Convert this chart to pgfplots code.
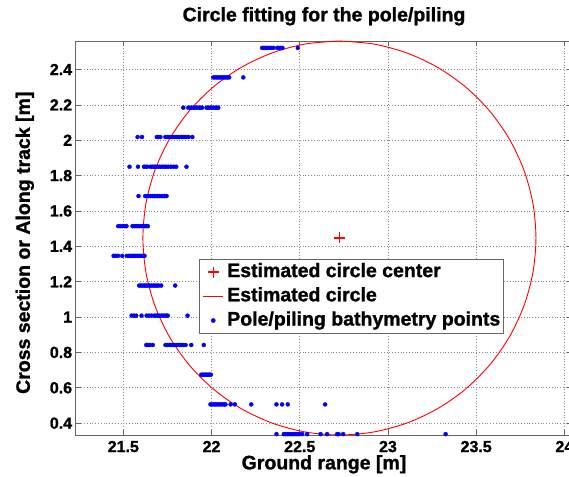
\documentclass[border=0pt]{standalone}
\usepackage{fontspec}
\setmainfont{Liberation Sans}[BoldFont={Liberation Sans Bold}, BoldFeatures={FakeBold=1.2}]
\usepackage{pgfplots}
\pgfplotsset{compat=1.18}
\usepackage{pgfplotstable}

\pgfplotsset{
  markleg/.style={legend image code/.code={\path[draw=none,fill=none] (0pt,-1pt) rectangle (24pt,1pt); \draw[##1] plot coordinates {(10pt,0pt)};}},
  lineleg/.style={legend image code/.code={\draw[##1] (0pt,0pt) -- (20pt,0pt); \path[draw=none,fill=none] (0pt,-1pt) rectangle (24pt,1pt);}},
}

\pgfplotstableread{
x y
22.725 2.561
22.5316 2.5441
22.344 2.4938
22.168 2.4117
22.0089 2.3003
21.8717 2.1631
21.7603 2.004
21.6782 1.828
21.6279 1.6404
21.611 1.447
21.6279 1.2536
21.6782 1.066
21.7603 0.890
21.8717 0.7309
22.0089 0.5937
22.168 0.4823
22.344 0.4002
22.5316 0.3499
22.725 0.333
22.9184 0.3499
23.106 0.4002
23.282 0.4823
23.4411 0.5937
23.5783 0.7309
23.6897 0.890
23.7718 1.066
23.8221 1.2536
23.839 1.447
23.8221 1.6404
23.7718 1.828
23.6897 2.004
23.5783 2.1631
23.4411 2.3003
23.282 2.4117
23.106 2.4938
22.9184 2.5441
22.725 2.561
}\circledata

\pgfplotstableread{
x y
22.368 0.338
22.410 0.338
22.420 0.338
22.430 0.338
22.440 0.338
22.450 0.338
22.460 0.338
22.470 0.338
22.480 0.338
22.490 0.338
22.500 0.338
22.514 0.338
22.542 0.338
22.618 0.338
22.655 0.338
22.712 0.338
22.720 0.338
22.746 0.338
22.826 0.338
23.327 0.338
21.994 0.506
22.004 0.506
22.014 0.506
22.024 0.506
22.034 0.506
22.044 0.506
22.054 0.506
22.064 0.506
22.074 0.506
22.079 0.506
22.108 0.506
22.132 0.506
22.225 0.506
22.368 0.506
22.400 0.506
22.432 0.506
22.644 0.506
21.942 0.674
21.950 0.674
21.958 0.674
21.966 0.674
21.974 0.674
21.982 0.674
21.990 0.674
21.996 0.674
21.630 0.842
21.640 0.842
21.650 0.842
21.667 0.842
21.739 0.842
21.749 0.842
21.759 0.842
21.769 0.842
21.779 0.842
21.789 0.842
21.799 0.842
21.809 0.842
21.819 0.842
21.829 0.842
21.840 0.842
21.853 0.842
21.885 0.842
21.956 0.842
21.547 1.008
21.560 1.008
21.573 1.008
21.603 1.008
21.632 1.008
21.645 1.008
21.660 1.008
21.675 1.008
21.685 1.008
21.695 1.008
21.705 1.008
21.715 1.008
21.725 1.008
21.735 1.008
21.745 1.008
21.752 1.008
21.864 1.008
21.590 1.178
21.600 1.178
21.610 1.178
21.620 1.178
21.630 1.178
21.640 1.178
21.650 1.178
21.660 1.178
21.670 1.178
21.680 1.178
21.690 1.178
21.700 1.178
21.715 1.178
21.794 1.178
21.445 1.346
21.456 1.346
21.470 1.346
21.494 1.346
21.520 1.346
21.530 1.346
21.540 1.346
21.550 1.346
21.560 1.346
21.570 1.346
21.580 1.346
21.590 1.346
21.600 1.346
21.610 1.346
21.620 1.346
21.471 1.514
21.482 1.514
21.494 1.514
21.508 1.514
21.518 1.514
21.552 1.514
21.562 1.514
21.572 1.514
21.582 1.514
21.592 1.514
21.602 1.514
21.612 1.514
21.622 1.514
21.632 1.514
21.639 1.514
21.586 1.684
21.624 1.684
21.634 1.684
21.644 1.684
21.654 1.684
21.664 1.684
21.674 1.684
21.684 1.684
21.694 1.684
21.704 1.684
21.714 1.684
21.724 1.684
21.734 1.684
21.745 1.684
21.535 1.850
21.583 1.850
21.617 1.850
21.626 1.850
21.636 1.850
21.654 1.850
21.664 1.850
21.674 1.850
21.684 1.850
21.694 1.850
21.704 1.850
21.714 1.850
21.724 1.850
21.734 1.850
21.744 1.850
21.756 1.850
21.770 1.850
21.785 1.850
21.800 1.850
21.858 1.850
21.581 2.018
21.606 2.018
21.690 2.018
21.700 2.018
21.710 2.018
21.738 2.018
21.750 2.018
21.760 2.018
21.770 2.018
21.780 2.018
21.790 2.018
21.800 2.018
21.810 2.018
21.820 2.018
21.830 2.018
21.840 2.018
21.850 2.018
21.860 2.018
21.870 2.018
21.891 2.018
21.840 2.184
21.868 2.184
21.878 2.184
21.888 2.184
21.898 2.184
21.908 2.184
21.918 2.184
21.928 2.184
21.938 2.184
21.947 2.184
21.972 2.184
21.982 2.184
21.992 2.184
22.002 2.184
22.012 2.184
22.022 2.184
22.030 2.184
22.038 2.184
22.010 2.355
22.020 2.355
22.030 2.355
22.040 2.355
22.050 2.355
22.060 2.355
22.070 2.355
22.080 2.355
22.090 2.355
22.100 2.355
22.180 2.355
22.287 2.522
22.297 2.522
22.307 2.522
22.317 2.522
22.327 2.522
22.337 2.522
22.350 2.522
22.372 2.522
22.382 2.522
22.392 2.522
22.402 2.522
22.489 2.522
}\pointsdata

\begin{document}
\begin{tikzpicture}
\begin{axis}[
  name=ax,
  scale only axis,
  width=496.6pt, height=394pt,
  xmin=21.230, xmax=24.045, ymin=0.333, ymax=2.561,
  xtick={21.5,22,22.5,23,23.5,24},
  ytick={0.4,0.6,0.8,1,1.2,1.4,1.6,1.8,2,2.2,2.4},
  /pgf/number format/assume math mode=true,
  ticklabel style={font=\fontsize{16}{18}\selectfont\bfseries},
  xticklabel style={inner sep=0pt, yshift=-5.7pt},
  yticklabel style={inner sep=0pt, xshift=-3.4pt},
  tick align=inside,
  major tick length=5pt,
  tick style={black!60, line width=0.6pt},
  axis line style={black!60, line width=0.8pt},
  grid=major,
  grid style={dash pattern=on 0.8pt off 2pt, black!45, line width=0.6pt},
  title={Circle fitting for the pole/piling},
  title style={font=\fontsize{19.5}{22}\selectfont\bfseries, at={(axis description cs:0.5,1.0348)}, anchor=base, inner sep=0pt},
  xlabel={Ground range [m]},
  xlabel style={font=\fontsize{19.5}{22}\selectfont\bfseries, at={(axis description cs:0.5,-0.0871)}, anchor=base, inner sep=0pt},
  ylabel={Cross section or Along track [m]},
  ylabel style={font=\fontsize{19.5}{22}\selectfont\bfseries, at={(axis description cs:-0.0836,0.488)}, anchor=south, inner sep=0pt},
  legend style={at={(0.2483,0.4459)}, anchor=north west, draw=black!60, fill=white, line width=0.6pt,
    inner xsep=3.5pt, inner ysep=2.5pt, row sep=4.2pt,
    font=\fontsize{19.5}{22}\selectfont\bfseries,
    nodes={inner sep=0pt, text height=15pt, text depth=5pt},
    cells={anchor=west}},
]
\addplot[only marks, mark=+, red, mark size=5.5pt, line width=1.5pt, markleg]
  coordinates {(22.725,1.447)};
\addlegendentry{Estimated circle center}
\addplot[red, line width=0.9pt, smooth, lineleg]
  table[x=x, y=y] {\circledata};
\addlegendentry{Estimated circle}
\addplot[only marks, mark=*, blue, mark size=2pt, markleg]
  table[x=x, y=y] {\pointsdata};
\addlegendentry{Pole/piling bathymetry points}
\end{axis}
\pgfresetboundingbox
\path ([shift={(-75.7pt,-41pt)}]ax.south west) rectangle ([shift={(-3.3pt,41pt)}]ax.north east);
\end{tikzpicture}
\end{document}
